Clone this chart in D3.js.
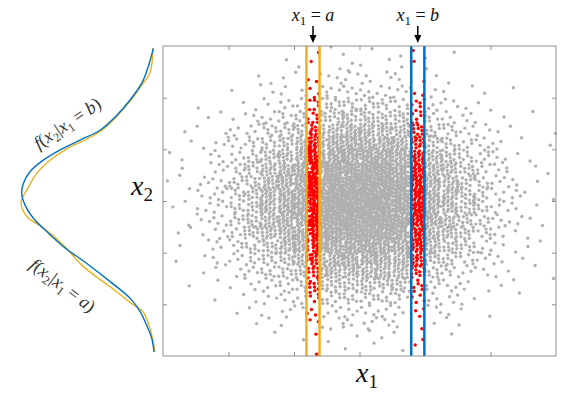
<!DOCTYPE html>
<html>
<head>
<meta charset="utf-8">
<script src="https://cdn.jsdelivr.net/npm/d3@7"></script>
<style>
  body { margin: 0; background: #fff; }
</style>
</head>
<body>
<div id="chart"></div>
<script>
// x1 = a and x1 = b, and half width of the slice around them
const aValue = -0.71;
const bValue = 0.89;
const sliceHalf = 0.1;

const x1Ticks = [-2, -1, 0, 1, 2];
const x2Ticks = [-2, -1, 0, 1, 2];

// point counts of the grey cloud, cells of 0.25 x 0.25,
// rows go from x2 = 3 (top) down to x2 = -3, columns from x1 = -3 to 3
const cellSize = 0.25;
const cloudCounts = [
  [0,0,0,0,0,0,0,0,0,1,1,1, 1,0,1,1,1,1,0,0,0,0,0,0],
  [0,0,0,0,0,0,0,1,1,1,1,2, 1,1,1,1,1,0,0,0,0,0,0,0],
  [0,0,0,0,0,1,1,1,2,2,3,3, 3,2,2,1,1,1,0,0,0,0,0,0],
  [0,0,0,0,1,1,1,2,3,4,4,4, 4,4,4,3,2,1,1,1,0,1,0,0],
  [0,0,1,0,1,1,2,4,6,6,8,8, 8,8,6,6,4,3,1,1,1,0,0,0],
  [0,0,1,1,1,3,4,6,8,11,11,12, 12,11,11,8,6,4,3,1,1,0,1,0],
  [0,1,1,1,3,4,8,9,12,16,17,19, 19,17,16,12,9,8,4,3,1,1,0,1],
  [0,1,1,3,4,6,9,12,17,20,23,25, 25,23,20,17,12,9,6,4,3,1,0,1],
  [1,1,1,3,4,8,12,17,22,26,29,31, 31,29,26,22,17,12,8,6,3,1,1,0],
  [0,1,1,4,6,11,16,20,26,31,36,37, 37,36,31,26,20,16,11,6,4,1,1,1],
  [1,1,3,4,8,11,17,23,29,36,40,43, 43,40,36,29,23,17,11,8,4,3,1,0],
  [0,1,3,4,8,12,19,25,31,37,43,45, 45,43,37,31,25,19,12,8,4,3,1,1],
  [1,1,3,4,8,12,19,25,31,37,42,45, 46,43,37,31,25,19,12,8,4,3,1,0],
  [0,1,3,4,8,11,17,23,29,36,40,43, 43,40,36,29,23,17,11,8,4,3,1,1],
  [1,1,1,4,6,11,16,20,26,31,36,37, 37,36,31,26,20,16,11,6,4,1,1,0],
  [0,1,1,3,6,8,12,17,22,26,29,31, 31,29,26,22,17,12,8,4,3,1,1,1],
  [1,0,1,3,4,6,9,12,17,20,23,25, 25,23,20,17,12,9,6,4,3,1,1,0],
  [0,0,1,1,3,4,8,9,12,16,17,19, 19,17,16,12,9,6,4,3,1,1,0,1],
  [0,1,0,1,1,3,4,6,8,11,11,12, 12,11,11,8,6,4,3,1,1,1,0,0],
  [0,0,0,1,1,1,3,4,4,6,8,8, 8,8,6,4,4,3,1,1,0,1,0,0],
  [0,0,0,0,1,1,1,3,3,3,4,4, 4,4,3,3,3,1,1,1,0,0,0,0],
  [0,0,0,0,0,1,1,1,1,2,3,3, 3,3,2,1,1,1,1,0,0,0,0,0],
  [0,0,0,0,0,0,1,0,1,1,1,1, 1,1,1,1,0,1,0,0,0,0,0,0],
  [0,0,0,0,0,0,0,0,0,1,0,1, 1,0,1,1,0,0,0,0,0,0,0,0]
];

// conditional densities
const densB_x2 = [2.955, 2.60, 2.28, 1.955, 1.66, 1.37, 1.18, 0.99, 0.79, 0.57, 0.34, 0.15,
  -0.08, -0.33, -0.59, -0.88, -1.21, -1.56, -1.88, -2.14, -2.40, -2.65, -2.92];
const densB_f = [0.005, 0.020, 0.039, 0.074, 0.113, 0.163, 0.222, 0.281, 0.331, 0.370, 0.390, 0.395,
  0.385, 0.361, 0.321, 0.272, 0.202, 0.133, 0.074, 0.044, 0.025, 0.010, 0.003];
const densA_x2 = [2.96, 2.48, 2.2, 1.955, 1.37, 0.99, 0.79, 0.54, 0.21, -0.02, -0.30, -0.52,
  -0.85, -1.27, -1.66, -2.01, -2.14, -2.46, -2.92];
const densA_f = [0.006, 0.015, 0.044, 0.071, 0.157, 0.267, 0.311, 0.350, 0.380, 0.397, 0.380, 0.331,
  0.272, 0.212, 0.133, 0.064, 0.036, 0.015, 0.000];

const orange = "#EDB120";
const blue = "#0072BD";
const serif = "Liberation Serif";

function buildPoints() {
  // spread each cell's count over the cell with a fixed low-discrepancy layout
  const pts = [];
  let g = 0;
  cloudCounts.forEach((row, r) => {
    row.forEach((n, c) => {
      for (let k = 0; k < n; k++) {
        const u = (0.5 + g * 0.7548776662) % 1;
        const v = (0.5 + g * 0.5698402910) % 1;
        g++;
        pts.push([-3 + (c + u) * cellSize, 3 - (r + v) * cellSize]);
      }
    });
  });
  return pts;
}

// LaTeX-ish label: parts are [text, italic, subscript]
function mathText(sel, parts, size, subSize) {
  let down = false;
  parts.forEach(([txt, it, sub]) => {
    const ts = sel.append("tspan").text(txt);
    if (it) ts.attr("font-style", "italic");
    if (sub && !down) { ts.attr("dy", size * 0.22).attr("font-size", subSize); down = true; }
    else if (!sub && down) { ts.attr("dy", -size * 0.22); down = false; }
  });
}

function drawChart() {
  const width = 572, height = 395;
  const svg = d3.select("#chart").append("svg")
    .attr("width", width)
    .attr("height", height);

  svg.append("rect").attr("width", width).attr("height", height).attr("fill", "#fff");

  const left = 163, right = 556, top = 46, bottom = 356;
  const xScale = d3.scaleLinear().domain([-3, 3]).range([left, right]);
  const yScale = d3.scaleLinear().domain([-3, 3]).range([bottom, top]);

  const points = buildPoints();
  const inSlice = (p) => Math.abs(p[0] - aValue) < sliceHalf || Math.abs(p[0] - bValue) < sliceHalf;

  svg.append("g")
    .selectAll("circle")
    .data(points.filter((p) => !inSlice(p)))
    .enter()
    .append("circle")
    .attr("cx", (d) => xScale(d[0]))
    .attr("cy", (d) => yScale(d[1]))
    .attr("r", 1.7)
    .attr("fill", "#b0b0b0");

  svg.append("g")
    .selectAll("circle")
    .data(points.filter(inSlice))
    .enter()
    .append("circle")
    .attr("cx", (d) => xScale(d[0]))
    .attr("cy", (d) => yScale(d[1]))
    .attr("r", 1.7)
    .attr("fill", "#ff0000");

  // slice boundaries
  const slices = [
    [aValue - sliceHalf, orange], [aValue + sliceHalf, orange],
    [bValue - sliceHalf, blue], [bValue + sliceHalf, blue]
  ];
  svg.append("g")
    .selectAll("line")
    .data(slices)
    .enter()
    .append("line")
    .attr("x1", (d) => xScale(d[0]))
    .attr("x2", (d) => xScale(d[0]))
    .attr("y1", top)
    .attr("y2", bottom)
    .attr("stroke", (d) => d[1])
    .attr("stroke-width", 2.5);

  // frame and inward ticks on all sides
  const axes = [
    [d3.axisBottom(xScale).tickValues(x1Ticks), "translate(0," + bottom + ")"],
    [d3.axisTop(xScale).tickValues(x1Ticks), "translate(0," + top + ")"],
    [d3.axisLeft(yScale).tickValues(x2Ticks), "translate(" + left + ",0)"],
    [d3.axisRight(yScale).tickValues(x2Ticks), "translate(" + right + ",0)"]
  ];
  axes.forEach(([ax, tr]) => {
    const g = svg.append("g")
      .attr("transform", tr)
      .call(ax.tickSizeInner(-4).tickSizeOuter(0).tickFormat(""));
    g.select(".domain").remove();
    g.selectAll("line").attr("stroke", "#8f8f8f");
  });
  svg.append("rect")
    .attr("x", left)
    .attr("y", top)
    .attr("width", right - left)
    .attr("height", bottom - top)
    .attr("fill", "none")
    .attr("stroke", "#8f8f8f")
    .attr("stroke-width", 1);

  // x1 = a / x1 = b markers
  [[aValue, "a"], [bValue, "b"]].forEach(([v, name]) => {
    const cx = xScale(v);
    const t = svg.append("text")
      .attr("x", cx)
      .attr("y", 21)
      .attr("text-anchor", "middle")
      .attr("font-family", serif)
      .attr("font-size", 18)
      .attr("fill", "#111");
    mathText(t, [["x", true], ["1", false, true], [" = ", false], [name, true]], 18, 13);

    svg.append("line")
      .attr("x1", cx).attr("x2", cx)
      .attr("y1", 26).attr("y2", 36)
      .attr("stroke", "#000")
      .attr("stroke-width", 1.5);
    svg.append("path")
      .attr("d", "M" + (cx - 3.5) + ",35L" + (cx + 3.5) + ",35L" + cx + ",43Z")
      .attr("fill", "#000");
  });

  // axis labels
  const xLab = svg.append("text")
    .attr("x", 367)
    .attr("y", 382)
    .attr("text-anchor", "middle")
    .attr("font-family", serif)
    .attr("font-size", 28)
    .attr("fill", "#111");
  mathText(xLab, [["x", true], ["1", false, true]], 28, 19);

  const yLab = svg.append("text")
    .attr("x", 142)
    .attr("y", 195)
    .attr("text-anchor", "middle")
    .attr("font-family", serif)
    .attr("font-size", 28)
    .attr("fill", "#111");
  mathText(yLab, [["x", true], ["2", false, true]], 28, 19);

  // conditional densities, drawn sideways left of the plot
  const fScale = d3.scaleLinear().domain([0, 0.4]).range([155, 20]);
  const densLine = d3.line()
    .x((d) => fScale(d[1]))
    .y((d) => yScale(d[0]))
    .curve(d3.curveCatmullRom);

  svg.append("path")
    .datum(d3.zip(densA_x2, densA_f))
    .attr("d", densLine)
    .attr("fill", "none")
    .attr("stroke", orange)
    .attr("stroke-width", 1.4);

  svg.append("path")
    .datum(d3.zip(densB_x2, densB_f))
    .attr("d", densLine)
    .attr("fill", "none")
    .attr("stroke", blue)
    .attr("stroke-width", 1.4);

  const curveLabels = [[67, 123, -34, "b"], [63, 285, 37, "a"]];
  curveLabels.forEach(([lx, ly, rot, name]) => {
    const t = svg.append("text")
      .attr("transform", "translate(" + lx + "," + ly + ") rotate(" + rot + ")")
      .attr("text-anchor", "middle")
      .attr("dy", "0.35em")
      .attr("font-family", serif)
      .attr("font-size", 18)
      .attr("fill", "#333");
    mathText(t, [["f", true], ["(", false], ["x", true], ["2", false, true], ["|", false],
      ["x", true], ["1", false, true], [" = ", false], [name, true], [")", false]], 18, 12);
  });
}

drawChart();
</script>
</body>
</html>
